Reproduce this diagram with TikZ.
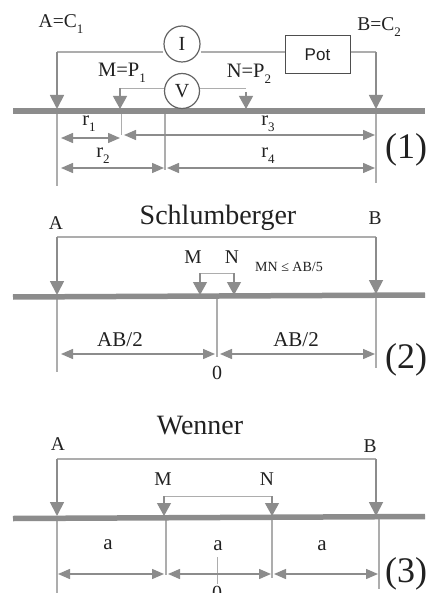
\documentclass[tikz,border=0pt]{standalone}
\usepackage{fontspec}
\setmainfont{Liberation Serif}
\setsansfont{Liberation Sans}
\usetikzlibrary{arrows.meta}
\newcommand{\subdigit}[1]{\raisebox{-0.3em}{\fontsize{13}{13}\selectfont #1}}
\newcommand{\fs}[1]{\fontsize{#1}{#1}\selectfont}
\definecolor{thick}{gray}{0.55}
\definecolor{thin}{gray}{0.68}
\definecolor{ink}{gray}{0.13}
\tikzset{
  x=1pt,y=-1pt,
  every node/.style={text=ink,inner sep=0pt},
  ground/.style={draw=thick,line width=5.5pt},
  probe/.style={draw=thick,line width=1.8pt,-{Triangle[width=14pt,length=14pt,fill=thick]}},
  smallprobe/.style={draw=thick,line width=1.2pt,-{Triangle[width=14pt,length=13pt,fill=thick]}},
  wire/.style={draw=thin,line width=1.3pt},
  tick/.style={draw=thin,line width=1.2pt},
  span/.style={draw=thick,line width=1.4pt,{Triangle[width=10pt,length=12pt,fill=thick]}-{Triangle[width=10pt,length=12pt,fill=thick]}},
  meter/.style={circle,draw=ink!70,line width=1.2pt,fill=white,minimum size=35pt,font=\fs{20}},
  potbox/.style={rectangle,draw=ink!80,line width=1pt,fill=white,minimum width=65pt,minimum height=38pt,font=\sffamily\fs{17}},
  lab/.style={font=\fs{19.5}},
  eqlab/.style={font=\fs{20.5}},
  dim/.style={font=\fs{21}},
  title/.style={font=\fs{28}},
  num/.style={font=\fs{36}}
}
\begin{document}
\begin{tikzpicture}
\useasboundingbox (0,0) rectangle (428,593);
\fill[white] (0,0) rectangle (428,593);
% ---------- panel 1
\coordinate (g1l) at (13,111); \coordinate (g1r) at (425,111);
\coordinate (a1w) at (57,52); \coordinate (b1w) at (376,52);
\coordinate (a1g) at (57,109); \coordinate (b1g) at (376,109);
\coordinate (m1w) at (120,88); \coordinate (n1w) at (246,88);
\coordinate (m1g) at (120,109); \coordinate (n1g) at (246,109);
\coordinate (n1s) at (246,92);
\draw[tick] (57,111) coordinate (a1t) -- (57,186) coordinate (a1b);
\draw[tick,line width=.7pt] (121,111) coordinate (m1t) -- (121,135) coordinate (m1b);
\draw[tick] (165,111) coordinate (c1t) -- (165,170) coordinate (c1b);
\draw[tick] (376,111) coordinate (b1t) -- (376,183) coordinate (b1b);
\draw[ground] (g1l) -- (g1r);
\node[meter,minimum size=36pt] (I) at (182,44) {I};
\node[potbox] (pot) at (317.5,55) {Pot};
\node[meter] (V) at (182,91) {V};
\draw[wire] (I.west|-a1w) -- (a1w);
\draw[wire] (pot.west|-a1w) -- (I.east|-a1w);
\draw[wire] (pot.east|-b1w) -- (b1w);
\draw[probe] (a1w) -- (a1g);
\draw[probe] (b1w) -- (b1g);
\draw[wire,line width=.9pt] (V.west|-m1w) -- (m1w);
\draw[wire,line width=.9pt] (V.east|-n1w) -- (n1w);
\draw[smallprobe] (m1w) -- (m1g);
\draw[smallprobe] (n1s) -- (n1g);
\draw[span] (61,138) coordinate (s1a) -- (120,138) coordinate (s1b);
\draw[span] (124,135) coordinate (s2a) -- (375,135) coordinate (s2b);
\draw[span] (61,168) coordinate (s3a) -- (164,168) coordinate (s3b);
\draw[span] (167,168) coordinate (s4a) -- (375,168) coordinate (s4b);
\node[lab] (l1a) at (61,24) {A=C\subdigit{1}};
\node[lab] (l1b) at (379,27) {B=C\subdigit{2}};
\node[eqlab] (l1m) at (122,73) {M=P\subdigit{1}};
\node[eqlab] (l1n) at (249,74) {N=P\subdigit{2}};
\node[eqlab] (r1) at (89,124) {r\subdigit{1}};
\node[eqlab] (r3) at (268,124) {r\subdigit{3}};
\node[eqlab] (r2) at (103,156) {r\subdigit{2}};
\node[eqlab] (r4) at (268,156) {r\subdigit{4}};
\node[num] (n1) at (406,150) {(1)};
% ---------- panel 2
\coordinate (g2l) at (13,297); \coordinate (g2r) at (425,295);
\coordinate (a2w) at (57,237); \coordinate (b2w) at (376,237);
\coordinate (a2g) at (57,295); \coordinate (b2g) at (376,294);
\coordinate (m2w) at (200,273); \coordinate (n2w) at (234,273);
\coordinate (m2g) at (200,295); \coordinate (n2g) at (234,295);
\draw[tick] (57,297) coordinate (a2t) -- (57,372) coordinate (a2b);
\draw[tick] (217,297) coordinate (c2t) -- (217,357) coordinate (c2b);
\draw[tick] (376,295) coordinate (b2t) -- (376,368) coordinate (b2b);
\draw[ground] (g2l) -- (g2r);
\draw[wire] (a2w) -- (b2w);
\draw[probe] (a2w) -- (a2g);
\draw[probe] (b2w) -- (b2g);
\draw[wire,line width=.9pt] (m2w) -- (n2w);
\draw[smallprobe] (m2w) -- (m2g);
\draw[smallprobe] (n2w) -- (n2g);
\draw[span] (61,354) coordinate (s5a) -- (215,354) coordinate (s5b);
\draw[span] (220,354) coordinate (s6a) -- (375,354) coordinate (s6b);
\node[title] (t2) at (218,218) {Schlumberger};
\node[lab] (l2a) at (56,223) {A};
\node[lab] (l2b) at (375,218) {B};
\node[lab] (l2m) at (193,257) {M};
\node[lab] (l2n) at (232,257) {N};
\node[font=\fs{14}] (rule) at (289,267) {MN ≤ AB/5};
\node[dim] (d2a) at (120,340) {AB/2};
\node[dim] (d2b) at (296,340) {AB/2};
\node[font=\fs{20}] (z2) at (217,373) {0};
\node[num] (n2) at (406,360) {(2)};
% ---------- panel 3
\coordinate (g3l) at (13,518.5); \coordinate (g3r) at (425,516.5);
\coordinate (a3w) at (57,459); \coordinate (b3w) at (376,459);
\coordinate (a3g) at (57,516); \coordinate (b3g) at (376,516);
\coordinate (m3w) at (164,496); \coordinate (n3w) at (272,496);
\coordinate (m3g) at (164,516); \coordinate (n3g) at (272,516);
\draw[tick] (57,518) coordinate (a3t) -- (57,593) coordinate (a3b);
\draw[tick] (166,518) coordinate (m3t) -- (166,575) coordinate (m3b);
\draw[tick] (272,518) coordinate (n3t) -- (272,578) coordinate (n3b);
\draw[tick,line width=1.4pt] (379,517) coordinate (b3t) -- (379,589) coordinate (b3b);
\draw[tick,line width=.8pt] (217,557) coordinate (c3t) -- (217,584) coordinate (c3b);
\draw[ground] (g3l) -- (g3r);
\draw[wire] (a3w) -- (b3w);
\draw[probe] (a3w) -- (a3g);
\draw[probe] (b3w) -- (b3g);
\draw[wire,line width=.9pt] (m3w) -- (n3w);
\draw[smallprobe] (m3w) -- (m3g);
\draw[smallprobe] (n3w) -- (n3g);
\draw[span] (58,574) coordinate (s7a) -- (164,574) coordinate (s7b);
\draw[span] (168,574) coordinate (s8a) -- (271,574) coordinate (s8b);
\draw[span] (274,574) coordinate (s9a) -- (378,574) coordinate (s9b);
\node[title] (t3) at (200,426) {Wenner};
\node[lab] (l3a) at (58,444) {A};
\node[lab] (l3b) at (370,446) {B};
\node[lab] (l3m) at (163,479) {M};
\node[lab] (l3n) at (267,479) {N};
\node[dim] (d3a) at (108,545) {a};
\node[dim] (d3b) at (218,546) {a};
\node[dim] (d3c) at (322,546) {a};
\node[font=\fs{20}] (z3) at (217,593) {0};
\node[num] (n3) at (406,574) {(3)};
\end{tikzpicture}
\end{document}
